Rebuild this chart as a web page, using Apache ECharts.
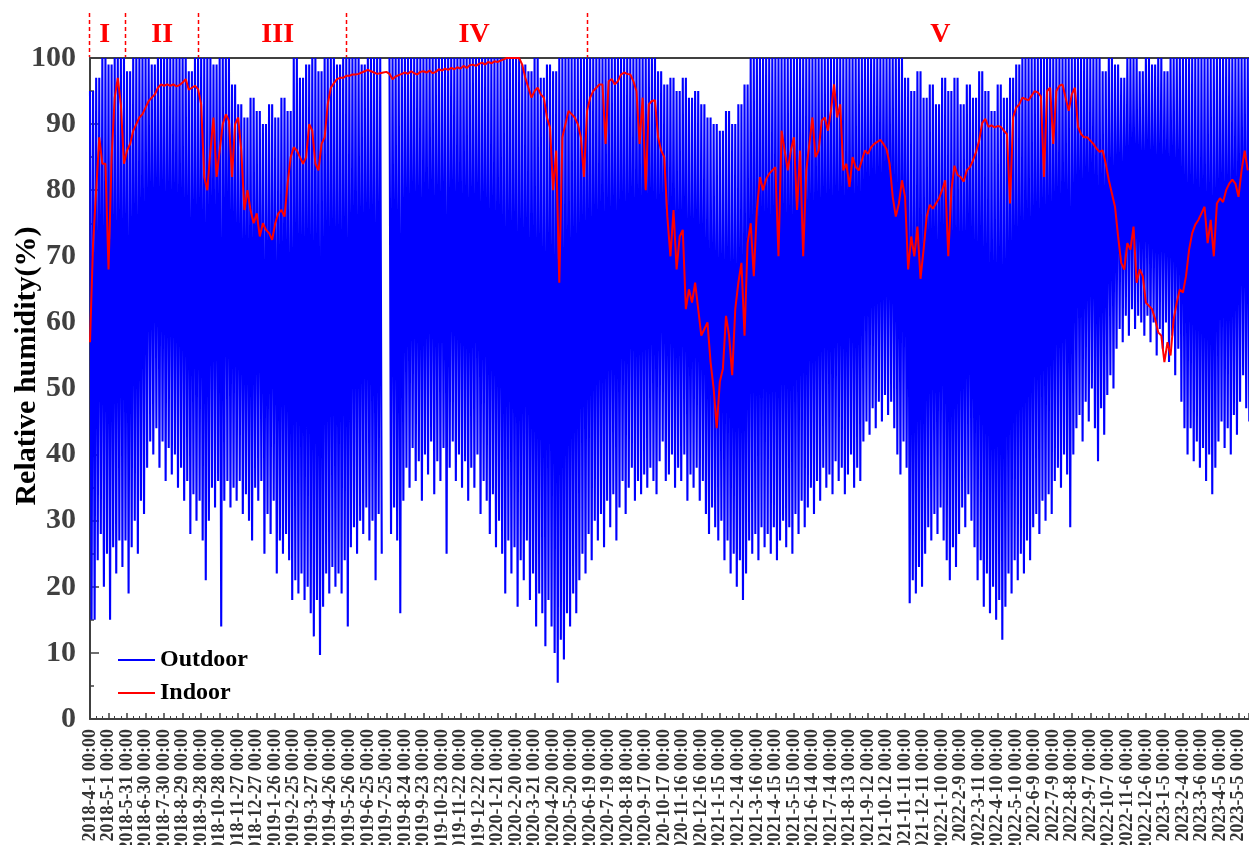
<!DOCTYPE html>
<html><head><meta charset="utf-8">
<script src="https://cdn.jsdelivr.net/npm/echarts/dist/echarts.min.js"></script>
<style>html,body{margin:0;padding:0;background:#fff}#c{width:1249px;height:845px}</style>
</head><body><div id="c"></div>
<script>
// ---- data (days since 2018-4-1 00:00, one step = 5 days) ----
const STEP_DAYS = 5;
const tickLabels = ['2018-4-1','2018-5-1','2018-5-31','2018-6-30','2018-7-30','2018-8-29','2018-9-28','2018-10-28','2018-11-27','2018-12-27','2019-1-26','2019-2-25','2019-3-27','2019-4-26','2019-5-26','2019-6-25','2019-7-25','2019-8-24','2019-9-23','2019-10-23','2019-11-22','2019-12-22','2020-1-21','2020-2-20','2020-3-21','2020-4-20','2020-5-20','2020-6-19','2020-7-19','2020-8-18','2020-9-17','2020-10-17','2020-11-16','2020-12-16','2021-1-15','2021-2-14','2021-3-16','2021-4-15','2021-5-15','2021-6-14','2021-7-14','2021-8-13','2021-9-12','2021-10-12','2021-11-11','2021-12-11','2022-1-10','2022-2-9','2022-3-11','2022-4-10','2022-5-10','2022-6-9','2022-7-9','2022-8-8','2022-9-7','2022-10-7','2022-11-6','2022-12-6','2023-1-5','2023-2-4','2023-3-6','2023-4-5','2023-5-5'].map(s => s + ' 00:00');
const regionStarts = [0, 58, 177, 416, 807];
const regionNames = ['I', 'II', 'III', 'IV', 'V'];
const regionLabelDays = [24, 117, 304, 622, 1377];

// outdoor low of each 5-day step
const outdoorLow0 = [15,15,24,28,20,25,15,26,22,27,23,27,19,26,30,25,33,31,38,42,40,44,38,42,36,41,37,40,35,38,33,36,28,34,30,33,27,21,30,35,32,36,14,33,36,32,35,33,36,31,34,30,27,35,33,36,25,31,28,33,22,27,25,28,24,18,21,19,22,18,20,16];
const outdoorLow1 = [12.5,18,9.7,17,22,19,23,20,22,19,24,14,26,29,25,30,28,32,27,30,21,31,25,null,null,28,32,27,16,33,38,35,41,36,39,33,40,37,42,34,39,36,41,25,38,42,36,40,35,39,33,38,35,40,31,36,33,28,34,26,30,25,19,27,22,26,17,24,21,27,18,22];
const outdoorLow2 = [14,19,16,11,18,14,10,5.5,12,9,16,14,19,16,21,25,22,28,24,30,27,31,26,33,29,34,27,32,36,31,35,38,33,36,34,37,35,38,36,34,39,42,36,37,40,35,38,36,40,33,37,35,38,33,36,31,28,32,29,27,30,24,27,22,25,20,24,18,22,27,25,28];
const outdoorLow3 = [24,29,26,28,25,29,24,27,30,26,29,25,31,28,33,29,32,35,31,36,33,38,35,37,34,39,36,38,34,37,40,35,38,36,42,45,43,47,44,48,45,49,46,48,44,40,37,42,38,17.5,21,19,23,20,25,29,27,31,28,32,27,24,21,26,23,28,32,29,34,30,26,21];
const outdoorLow4 = [24,17,22,16,20,15,18,12,17,22,19,24,21,25,22,27,24,29,31,28,33,30,34,31,36,38,35,40,37,29,40,44,46,42,48,45,50,44,39,47,43,49,52,50,56,59,57,61,58,62,59,61,60,58,61,57,60,55,59,56,60,54,58,52,56,48,44,40,44,39,42,38];
const outdoorLow5 = [41,36,40,34,38,42,45,41,44,40,46,43,48,52,47,45];

// outdoor high of each 10-day period
const outdoorHigh0 = [95,97,100,99,100,100,98,100,100,100,99,100,100,100,100,100,98,100,100,100,99,100,100,96,93,91,94,92,90,93,91,94,92,100,97,99];
const outdoorHigh1 = [100,98,100,100,99,100,100,100,99,100,100,100,100,100,100,100,100,100,100,100,100,100,100,100,100,100,100,100,100,100,100,100,100,100,99,98];
const outdoorHigh2 = [100,97,99,98,100,100,100,100,100,100,100,100,100,100,100,100,100,100,100,100,98,96,97,95,97,94,95,93,91,90,89,92,90,93,96,100];
const outdoorHigh3 = [100,100,100,100,100,100,100,100,100,100,100,100,100,100,100,100,100,100,100,100,100,100,100,100,97,95,98,94,96,93,97,95,97,93,96,94];
const outdoorHigh4 = [98,95,92,96,94,97,99,100,100,100,100,100,100,100,100,100,100,100,100,100,98,100,99,97,100,100,98,100,99,100,98,100,100,100,100,100];
const outdoorHigh5 = [100,100,100,100,100,100,100,100];

// indoor value at each 5-day step
const indoor0 = [57,72,80,88,84,84,68,85,94,97,93,84,86,87,89,90,91,91.5,92.5,93.5,94,94.5,95.5,96,95.8,96,95.8,96,95.7,95.9,96.3,96.8,95.2,95.5,95.8,95.3,93,82,80,86,91,82,86,90,91.5,90.5,82,90,91,86,77,80,77,75,76.5,73,75,74,73.5,72.5,75,76.5,77,76,81,85,86.5,86,85,84,85,90];
const indoor1 = [89,84,83,87,88,93,95.5,96.2,96.8,97,97,97.3,97.3,97.5,97.5,97.6,97.8,98,98.2,98,97.8,97.6,97.7,97.8,97.9,97.6,96.8,97.2,97.4,97.6,97.8,97.6,98,97.7,97.5,97.9,98,97.8,98.1,97.7,97.9,98.3,98.1,98.4,98.2,98.5,98.3,98.6,98.4,98.8,98.5,98.9,99,98.8,99.1,99.3,99,99.4,99.2,99.5,99.4,99.6,99.8,100,100,100,100,100,99,97,95.5,94];
const indoor2 = [95,95.5,94.5,94,91,89.5,80,86,66,88,90,92,91.5,91,90,88,82,92,94,95,95.5,96,96,87,96.5,96.8,96,96.5,97.5,97.8,97.6,97.5,96.5,95,87,94,80,93,93.5,93.6,88,86,85,76,70,77,68,73,74,62,65,63,66,62,58,59,60,54,50,44,51,53,61,58,52,62,66,69,58,72,75,67];
const indoor3 = [77,82,80,81.7,82.5,83,83.5,70,89,86,83,86,88,77,86,70,83,87,91,85,86,90.5,91,89,92,96,91,93,83,84,80.5,85,83.5,83,84.5,86,85.5,86.5,87,87.3,87.6,87,86.2,84,79,76,78,81.5,79,68,73,70,74.5,66.6,71,76,77.8,77.2,78,78.8,80,81.5,70,80,83.7,82.3,82,81.3,83,83.5,84.5,85.8];
const indoor4 = [87.5,90.2,90.8,89.6,89.8,89.5,89.7,89.6,89,88.5,78,91,92.5,93,94,93.8,93.6,94.3,95,94.8,94.2,82,95,95.5,87,95,95.8,96,94,92,94.5,95.5,89.6,88.5,88,88,87.5,87,86.3,85.8,86,84,81.5,79.5,77.5,73,69,68,72,71,74.5,66,68,67,63,62.5,62,60.5,58.5,58,54,57,55,60.5,63,65,64.5,67,71,73.5,74.8,75.5];
const indoor5 = [76.5,77.5,72,75.5,70,78,78.8,78.2,80,81,81.6,81,79,83,86,83];

// ---- build series ----
const outdoorLow = [].concat(outdoorLow0, outdoorLow1, outdoorLow2, outdoorLow3, outdoorLow4, outdoorLow5);
const outdoorHigh = [].concat(outdoorHigh0, outdoorHigh1, outdoorHigh2, outdoorHigh3, outdoorHigh4, outdoorHigh5);
const indoor = [].concat(indoor0, indoor1, indoor2, indoor3, indoor4, indoor5);

const outdoorData = [];
outdoorLow.forEach((lo, i) => {
  const d = i * STEP_DAYS;
  if (lo === null) { outdoorData.push([d, null], [d + STEP_DAYS / 2, null]); }
  else { outdoorData.push([d, outdoorHigh[Math.floor(i / 2)]], [d + STEP_DAYS / 2, lo]); }
});
const indoorData = indoor.map((v, i) => [i * STEP_DAYS, v]);

const FONT = "'Times New Roman','Liberation Serif',serif";
const AX = '#404040';
const chart = echarts.init(document.getElementById('c'), null, { renderer: 'canvas' });
chart.setOption({
  animation: false,
  backgroundColor: '#fff',
  grid: { left: 90, right: 0, top: 58, bottom: 126, containLabel: false, outerBoundsMode: 'none' },
  legend: {
    data: ['Outdoor', 'Indoor'], orient: 'vertical', left: 113, top: 643, padding: 5,
    icon: 'rect', itemWidth: 37, itemHeight: 2, itemGap: 9,
    textStyle: { fontFamily: FONT, fontWeight: 'bold', fontSize: 24, color: '#000' }
  },
  xAxis: [{
    type: 'value', min: 0, max: 1877, interval: 30,
    axisLine: { onZero: false, lineStyle: { color: AX, width: 2 } },
    axisTick: { inside: true, length: 6, lineStyle: { color: AX, width: 1.5 } },
    minorTick: { show: true, splitNumber: 3, length: 3, lineStyle: { color: AX, width: 1 } },
    splitLine: { show: false },
    axisLabel: {
      rotate: 90, margin: 10, fontFamily: FONT, fontWeight: 'bold', fontSize: 18, color: '#333',
      formatter: v => (v % 30 === 0 && tickLabels[v / 30]) ? tickLabels[v / 30] : ''
    }
  }, {
    type: 'value', position: 'top', min: 0, max: 1877,
    axisLine: { show: true, onZero: false, lineStyle: { color: AX, width: 2 } },
    axisTick: { show: false }, axisLabel: { show: false }, splitLine: { show: false }
  }],
  yAxis: {
    type: 'value', min: 0, max: 100, interval: 10,
    axisLine: { show: true, lineStyle: { color: AX, width: 2 } },
    axisTick: { show: true, inside: true, length: 9, lineStyle: { color: AX, width: 1.5 } },
    minorTick: { show: true, splitNumber: 2, length: 4, lineStyle: { color: AX, width: 1.5 } },
    splitLine: { show: false },
    axisLabel: { margin: 14, fontFamily: FONT, fontWeight: 'bold', fontSize: 30, color: AX }
  },
  series: [{
    name: 'Outdoor', type: 'line', data: outdoorData, showSymbol: false, symbol: 'none',
    connectNulls: false, lineStyle: { color: '#0000ff', width: 2.1 }, itemStyle: { color: '#0000ff' },
    z: 2, silent: true
  }, {
    name: 'Indoor', type: 'line', data: indoorData, showSymbol: false, symbol: 'none',
    lineStyle: { color: '#ff0000', width: 2 }, itemStyle: { color: '#ff0000' },
    z: 3, silent: true
  }]
});

const px = d => chart.convertToPixel({ xAxisIndex: 0 }, d);
const topY = chart.convertToPixel({ yAxisIndex: 0 }, 100);
const g = [];
regionStarts.forEach(d => {
  const x = Math.round(px(d)) - 0.5;
  g.push({ type: 'line', shape: { x1: x, y1: 13, x2: x, y2: topY - 1 },
    style: { stroke: '#ff0000', lineWidth: 1.5, lineDash: [4, 3] }, z: 10 });
});
regionNames.forEach((n, k) => {
  g.push({ type: 'text', x: px(regionLabelDays[k]), y: 35,
    style: { text: n, fill: '#ff0000', fontFamily: FONT, fontWeight: 'bold', fontSize: 28, align: 'center', verticalAlign: 'middle' }, z: 10 });
});
g.push({ type: 'text', x: 27, y: 366, rotation: Math.PI / 2,
  style: { text: 'Relative humidity(%)', fill: '#000', fontFamily: FONT, fontWeight: 'bold', fontSize: 30, align: 'center', verticalAlign: 'middle' }, z: 10 });
chart.setOption({ graphic: g });
</script></body></html>
